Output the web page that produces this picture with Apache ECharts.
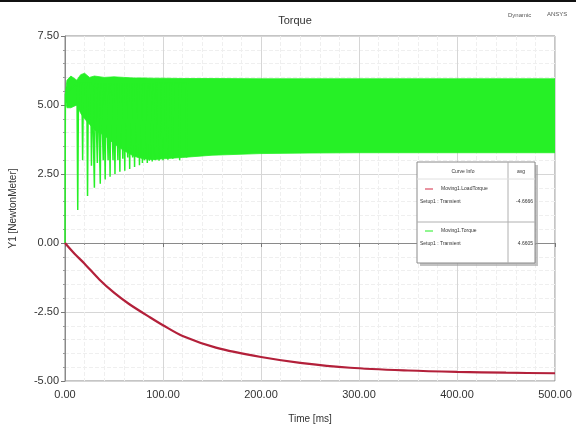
<!DOCTYPE html>
<html>
<head>
<meta charset="utf-8">
<script src="https://cdn.jsdelivr.net/npm/echarts@6/dist/echarts.min.js"></script>
<style>
  html, body { margin: 0; padding: 0; background: #fff; }
  #chart { width: 576px; height: 438px; }
</style>
</head>
<body>
<div id="chart"></div>
<script>
  // Moving1.LoadTorque (red)
  var loadTime   = [0, 10, 20, 35, 50, 65, 87, 100, 120, 154, 200, 240, 291, 350, 400, 450, 500]
  var loadTorque = [0, -0.4, -0.75, -1.32, -1.8, -2.2, -2.7, -2.98, -3.37, -3.79, -4.13, -4.34, -4.52, -4.62, -4.67, -4.7, -4.72]

  // Moving1.Torque (green): dense ripple, kept as upper / lower envelope
  var bandTime  = [0.5, 2, 6, 12, 16, 20, 25, 30, 40, 50, 60, 70, 80, 90, 100, 120, 150, 200, 250, 300, 350, 400, 450, 500]
  var bandUpper = [5.5, 5.9, 6.05, 5.9, 6.1, 6.15, 6.0, 6.05, 6.0, 6.02, 6.0, 5.98, 5.98, 5.97, 5.97, 5.96, 5.96, 5.95, 5.95, 5.95, 5.95, 5.95, 5.95, 5.95]
  var bandLower = [5.2, 4.9, 4.9, 5.0, 4.7, 4.5, 4.3, 4.1, 3.9, 3.6, 3.35, 3.15, 3.05, 3.02, 3.05, 3.1, 3.18, 3.24, 3.26, 3.27, 3.27, 3.27, 3.27, 3.27]

  // the deep dips during the start-up
  var dipTime  = [13, 18, 23, 27, 30, 33, 36, 39, 41, 44, 46, 49, 51, 54, 56, 59, 61, 64, 66, 69, 71, 74, 76, 79, 81, 84, 86, 89, 92, 96, 100, 105, 110, 117, 124]
  var dipValue = [1.2, 3.0, 1.7, 2.8, 2.0, 2.9, 2.15, 3.0, 2.3, 3.0, 2.4, 3.0, 2.5, 3.0, 2.58, 3.05, 2.62, 3.1, 2.68, 3.1, 2.75, 3.1, 2.82, 2.9, 3.0, 2.9, 2.98, 2.95, 3.0, 2.98, 3.0, 3.02, 3.05, 3.0, 3.1]
  var dipTop = 5.8
  var startStep = [[0, 0], [0.4, 5.4]]

  var legendRows = [
    {name: 'Moving1.LoadTorque', setup: 'Setup1 : Transient', avg: '-4.6666', color: '#d42a44'},
    {name: 'Moving1.Torque', setup: 'Setup1 : Transient', avg: '4.6605', color: '#22ee22'}
  ]

  var green = '#26f026'

  var loadData = loadTime.map(function (t, i) { return [t, loadTorque[i]] })
  var spikeData = startStep.slice()
  dipTime.forEach(function (t, i) {
    spikeData.push([t - 0.8, dipTop], [t, dipValue[i]], [t + 0.8, dipTop])
  })

  // filled ripple band, drawn through the axis scales
  function renderBand(params, api) {
    var pts = []
    for (var i = 0; i < bandTime.length; i++) pts.push(api.coord([bandTime[i], bandUpper[i]]))
    for (var j = bandTime.length - 1; j >= 0; j--) pts.push(api.coord([bandTime[j], bandLower[j]]))
    return {
      type: 'polygon',
      shape: {points: pts},
      style: {fill: green, stroke: green, lineWidth: 0.8}
    }
  }

  // legend table in the plot
  var lx = 417, ly = 162
  var legend = [
    {type: 'rect', shape: {x: lx + 3, y: ly + 3, width: 118, height: 101}, style: {fill: '#9a9a9a', opacity: 0.6}, z: 100},
    {type: 'rect', shape: {x: lx, y: ly, width: 118, height: 101}, style: {fill: '#fff', stroke: '#8a8a8a', lineWidth: 1}, z: 101},
    {type: 'line', shape: {x1: lx + 91, y1: ly, x2: lx + 91, y2: ly + 101}, style: {stroke: '#b0b0b0'}, z: 102},
    {type: 'line', shape: {x1: lx, y1: ly + 17, x2: lx + 118, y2: ly + 17}, style: {stroke: '#e0e0e0'}, z: 102},
    {type: 'line', shape: {x1: lx, y1: ly + 60, x2: lx + 118, y2: ly + 60}, style: {stroke: '#b0b0b0'}, z: 102},
    {type: 'text', x: lx + 46, y: ly + 10, style: {text: 'Curve Info', fontSize: 5, fill: '#333', align: 'center', verticalAlign: 'middle'}, z: 103},
    {type: 'text', x: lx + 104, y: ly + 10, style: {text: 'avg', fontSize: 5, fill: '#333', align: 'center', verticalAlign: 'middle'}, z: 103}
  ]
  legendRows.forEach(function (r, i) {
    var y0 = ly + 27 + i * 42
    legend.push(
      {type: 'line', shape: {x1: lx + 8, y1: y0, x2: lx + 16, y2: y0}, style: {stroke: r.color, lineWidth: 1}, z: 103},
      {type: 'text', x: lx + 24, y: y0, style: {text: r.name, fontSize: 5, fill: '#333', verticalAlign: 'middle'}, z: 103},
      {type: 'text', x: lx + 3, y: y0 + 13, style: {text: r.setup, fontSize: 5, fill: '#333', verticalAlign: 'middle'}, z: 103},
      {type: 'text', x: lx + 116, y: y0 + 13, style: {text: r.avg, fontSize: 5, fill: '#333', align: 'right', verticalAlign: 'middle'}, z: 103}
    )
  })

  var chart = echarts.init(document.getElementById('chart'))
  var option = {
    backgroundColor: '#fff',
    animation: false,
    title: {
      text: 'Torque',
      left: 290,
      top: 10,
      textAlign: 'center',
      textStyle: {fontFamily: 'Liberation Sans', fontSize: 11, fontWeight: 'normal', color: '#333'}
    },
    grid: {left: 64, right: 21, top: 36, bottom: 57, show: true, borderColor: '#8a8a8a', borderWidth: 1, backgroundColor: 'transparent'},
    xAxis: {
      type: 'value',
      min: 0, max: 500, interval: 100,
      name: 'Time [ms]',
      nameLocation: 'middle',
      nameGap: 33,
      nameTextStyle: {fontFamily: 'Liberation Sans', fontSize: 10, color: '#333'},
      axisLine: {show: true, lineStyle: {color: '#8a8a8a'}},
      axisTick: {show: true, length: 4, lineStyle: {color: '#777'}},
      minorTick: {show: true, splitNumber: 5, length: 2, lineStyle: {color: '#999'}},
      splitLine: {show: true, lineStyle: {color: '#d6d6d6'}},
      minorSplitLine: {show: true, lineStyle: {color: '#efefef', type: 'dashed'}},
      axisLabel: {fontFamily: 'Liberation Sans', fontSize: 11, color: '#333', margin: 8,
        formatter: function (v) { return v.toFixed(2) }}
    },
    yAxis: {
      type: 'value',
      min: -5, max: 7.5, interval: 2.5,
      name: 'Y1 [NewtonMeter]',
      nameLocation: 'middle',
      nameRotate: 90,
      nameGap: 47,
      nameTextStyle: {fontFamily: 'Liberation Sans', fontSize: 10, color: '#333'},
      axisLine: {show: true, lineStyle: {color: '#8a8a8a'}},
      axisTick: {show: true, length: 4, lineStyle: {color: '#777'}},
      minorTick: {show: true, splitNumber: 5, length: 2, lineStyle: {color: '#999'}},
      splitLine: {show: true, lineStyle: {color: '#d6d6d6'}},
      minorSplitLine: {show: true, lineStyle: {color: '#efefef', type: 'dashed'}},
      axisLabel: {fontFamily: 'Liberation Sans', fontSize: 11, color: '#333', margin: 6,
        formatter: function (v) { return v.toFixed(2) }}
    },
    graphic: [
      {type: 'rect', shape: {x: 0, y: 0, width: 576, height: 2}, style: {fill: '#111'}},
      {type: 'text', x: 508, y: 12, style: {text: 'Dynamic', fontSize: 6, fill: '#555', fontFamily: 'Liberation Sans'}},
      {type: 'text', x: 547, y: 11, style: {text: 'ANSYS', fontSize: 6, fill: '#555', fontFamily: 'Liberation Sans'}}
    ].concat(legend),
    series: [
      {
        name: 'Moving1.Torque', type: 'custom', data: [0],
        renderItem: renderBand, silent: true, clip: true
      },
      {
        name: 'Moving1.Torque dips', type: 'line', data: spikeData,
        symbol: 'none', silent: true,
        lineStyle: {width: 1.5, color: green}
      },
      {
        name: 'Moving1.LoadTorque', type: 'line', data: loadData,
        symbol: 'none', smooth: 0.3, silent: true,
        lineStyle: {width: 2.2, color: '#b3203a'}
      }
    ]
  }
  chart.setOption(option)
</script>
</body>
</html>
